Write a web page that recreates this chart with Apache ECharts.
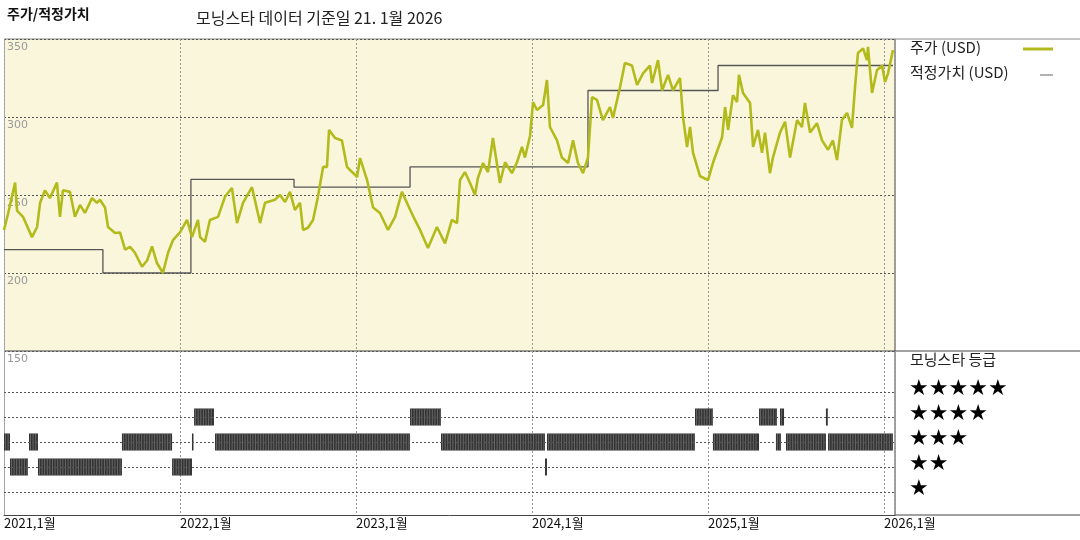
<!DOCTYPE html>
<html><head><meta charset="utf-8">
<script src="https://cdn.jsdelivr.net/npm/echarts@6/dist/echarts.min.js"></script>
<style>html,body{margin:0;padding:0;background:#fff}#c{width:1080px;height:540px}</style>
</head><body><div id="c"></div>
<script>
// x values are years after Jan 2021 (decimal years)
const priceT = [0,.023,.063,.074,.108,.159,.188,.205,.233,.261,.301,.318,.335,.375,.403,.432,.46,.5,.528,.545,.574,.591,.631,.659,.688,.716,.744,.784,.813,.841,.869,.903,.932,.96,
1,1.04,1.068,1.102,1.114,1.142,1.17,1.216,1.256,1.295,1.324,1.358,1.409,1.455,1.483,1.54,1.568,1.597,1.625,1.653,1.682,1.699,1.727,1.756,1.784,1.813,1.835,1.847,1.881,1.92,1.949,1.966,1.994,
2.006,2.023,2.063,2.097,2.136,2.182,2.222,2.261,2.295,2.335,2.364,2.409,2.46,2.506,2.545,2.574,2.591,2.619,2.648,2.676,2.693,2.722,2.75,2.778,2.818,2.847,2.886,2.915,2.943,2.96,2.989,
3.006,3.028,3.063,3.085,3.102,3.142,3.17,3.205,3.233,3.261,3.29,3.318,3.341,3.369,3.403,3.443,3.46,3.5,3.528,3.568,3.597,3.631,3.67,3.682,3.716,3.739,3.773,3.801,3.841,3.858,3.881,3.898,3.915,3.955,
4,4.028,4.08,4.097,4.114,4.142,4.165,4.176,4.199,4.239,4.256,4.284,4.307,4.324,4.352,4.369,4.409,4.438,4.466,4.506,4.534,4.551,4.58,4.619,4.648,4.682,4.71,4.733,4.761,4.79,4.818,4.835,4.852,4.881,4.903,4.909,4.932,4.96,4.989,5.006,5.023,5.051];
const priceV = [227.6,238,258,240,236,223,229.5,245,253,248,258,236,253,252,236,243.6,238.5,248,245,247,242,229.5,225.6,226,215,216.7,213,204,208,217,206.4,200,213,221,
226,234,223,234,223,220,234,236,249,254.5,232,245,255,232,245,247,250,245.5,252,240.4,245,227.6,229,234,249,268,268,291.7,286.5,285,268,266,263,
261.5,273.7,259.6,242,238.5,227.6,236,252,243.6,234,227.6,216,229.5,219,234,232,259.6,264.7,257.7,250,261,270.5,264.7,286.5,257.7,271,264,271,280.8,274,288,
309.6,304.5,307.7,323.7,293.6,285,274,270.5,285,270.5,264,274,312.8,311,298,306.4,299.4,319,334.6,333,320.5,328,333,321.8,336.5,317,327,317,325,300,280.8,293.6,277,262,
259.6,270.5,287,306.4,291.7,314,309.6,327,315.4,309,280.8,291.7,277,290,264,274,290,297,274,298,293.6,309,290,296,285,279,285,272.4,298,302.6,293,318.6,341,344,336.5,345,315.4,330,333,322.4,328,343];
const fairT = [0,0.562,1.062,1.648,2.307,3.318,4.057,5.051];
const fairV = [215,200,260,255,268,317,333,333];
// rating segments: [start, end, stars]
const ratingSeg = [[0,.034,3],[.142,.193,3],[.67,.955,3],[1.068,1.074,3],[1.199,2.307,3],[2.483,3.074,3],[3.085,3.926,3],[4.028,4.29,3],[4.386,4.415,3],[4.443,4.67,3],[4.682,5.051,3],
[.034,.136,2],[.193,.67,2],[.955,1.068,2],[3.074,3.085,2],
[1.08,1.193,4],[2.307,2.483,4],[3.926,4.028,4],[4.29,4.392,4],[4.409,4.432,4],[4.67,4.682,4]];
const yearTicks = [2021,2022,2023,2024,2025,2026];
const priceTicks = [150,200,250,300,350];

const base = 2021;
const chart = echarts.init(document.getElementById('c'));
const F = 'Noto Sans CJK KR';
const X0=4, X1=895, XMAX = base + (X1-X0)/176;
const xCommon = {type:'value',min:base,max:XMAX,interval:1};
chart.setOption({
  animation:false,
  textStyle:{fontFamily:F},
  grid:[{left:X0,top:39,width:X1-X0,height:312,backgroundColor:'#faf6dc',show:true,borderWidth:0},
        {left:X0,top:351,width:X1-X0,height:164,show:false}],
  xAxis:[
    Object.assign({gridIndex:0,axisLine:{show:false},axisTick:{show:false},axisLabel:{show:false},
      splitLine:{show:true,lineStyle:{color:'#999',type:[2,2],width:1}}},xCommon),
    Object.assign({gridIndex:1,axisLine:{show:true,lineStyle:{color:'#444',width:1}},axisTick:{show:false},
      axisLabel:{show:true,align:'left',color:'#111',fontSize:13,margin:2,formatter:v=>v+',1월',
        customValues:yearTicks},
      splitLine:{show:true,lineStyle:{color:'#999',type:[2,2],width:1}}},xCommon)
  ],
  yAxis:[
    {gridIndex:0,type:'value',min:150,max:350,interval:50,axisLine:{show:true,lineStyle:{color:'#aaa',type:[2,2]}},axisTick:{show:false},
     axisLabel:{inside:true,verticalAlign:'top',color:'#999',fontSize:11,margin:3,padding:[3,0,0,0],showMinLabel:true,showMaxLabel:true,fontFamily:'DejaVu Sans'},
     splitLine:{show:true,lineStyle:{color:'#555',type:[2,2],width:1}}},
    {gridIndex:1,type:'value',min:0.08,max:6.64,axisLine:{show:true,lineStyle:{color:'#aaa',type:[2,2]}},axisTick:{show:false},axisLabel:{show:false},
     splitLine:{show:false}}
  ],
  series:[
    {type:'line',xAxisIndex:0,yAxisIndex:0,step:'end',symbol:'none',data:fairT.map((t,i)=>[base+t,fairV[i]]),lineStyle:{color:'#555',width:1.3},z:2},
    {type:'line',xAxisIndex:0,yAxisIndex:0,symbol:'none',data:priceT.map((t,i)=>[base+t,priceV[i]]),lineStyle:{color:'#b3bb1c',width:2.6},z:3},
    {type:'line',xAxisIndex:1,yAxisIndex:1,symbol:'none',data:[],
     markLine:{silent:true,symbol:'none',label:{show:false},lineStyle:{color:'#555',type:[2,2],width:1},
       data:[1,2,3,4,5].map(v=>({yAxis:v}))}},
    {type:'custom',xAxisIndex:1,yAxisIndex:1,data:ratingSeg.map(s=>[base+s[0],base+s[1],s[2]]),
     renderItem:(p,api)=>{
       const a=api.coord([api.value(0),api.value(2)]), b=api.coord([api.value(1),api.value(2)]);
       const h=17, x=a[0], w=Math.max(1.5,b[0]-a[0]), y=a[1]-h/2;
       const ch=[{type:'rect',shape:{x,y,width:w,height:h},style:{fill:'#333'}}];
       for(let xx=x+1.5; xx<x+w-0.5; xx+=2.6) ch.push({type:'line',shape:{x1:xx,y1:y,x2:xx,y2:y+h},style:{stroke:'#8a8a8a',lineWidth:0.6}});
       return {type:'group',children:ch};
     },z:4}
  ],
  graphic:[
    {type:'line',shape:{x1:4,y1:39,x2:1080,y2:39},style:{stroke:'#888',lineWidth:1}},
    {type:'line',shape:{x1:895,y1:39,x2:895,y2:515},style:{stroke:'#444',lineWidth:1}},
    {type:'line',shape:{x1:4,y1:351,x2:1080,y2:351},style:{stroke:'#444',lineWidth:1}},
    {type:'line',shape:{x1:895,y1:515,x2:1080,y2:515},style:{stroke:'#444',lineWidth:1}},
    {type:'text',left:7,top:7,style:{text:'주가/적정가치',font:'bold 14px "Noto Sans CJK KR"',fill:'#111',letterSpacing:2}},
    {type:'text',left:196,top:10,style:{text:'모닝스타 데이터 기준일 21. 1월 2026',font:'16px "Noto Sans CJK KR"',fill:'#222',letterSpacing:2.6}},
    {type:'text',left:910,top:40,style:{text:'주가 (USD)',font:'15px "Noto Sans CJK KR"',fill:'#222',letterSpacing:2.2}},
    {type:'line',shape:{x1:1023,y1:49,x2:1053,y2:49},style:{stroke:'#b3bb1c',lineWidth:3}},
    {type:'text',left:910,top:65,style:{text:'적정가치 (USD)',font:'15px "Noto Sans CJK KR"',fill:'#222',letterSpacing:2.2}},
    {type:'line',shape:{x1:1040,y1:75,x2:1053,y2:75},style:{stroke:'#666',lineWidth:1}},
    {type:'text',left:910,top:352,style:{text:'모닝스타 등급',font:'15px "Noto Sans CJK KR"',fill:'#222',letterSpacing:2.5}},
    ...['★★★★★','★★★★','★★★','★★','★'].map((s,i)=>({type:'text',left:909,top:378+i*25,style:{text:s,font:'22px "DejaVu Sans"',fill:'#000'}}))
  ]
});
</script></body></html>
